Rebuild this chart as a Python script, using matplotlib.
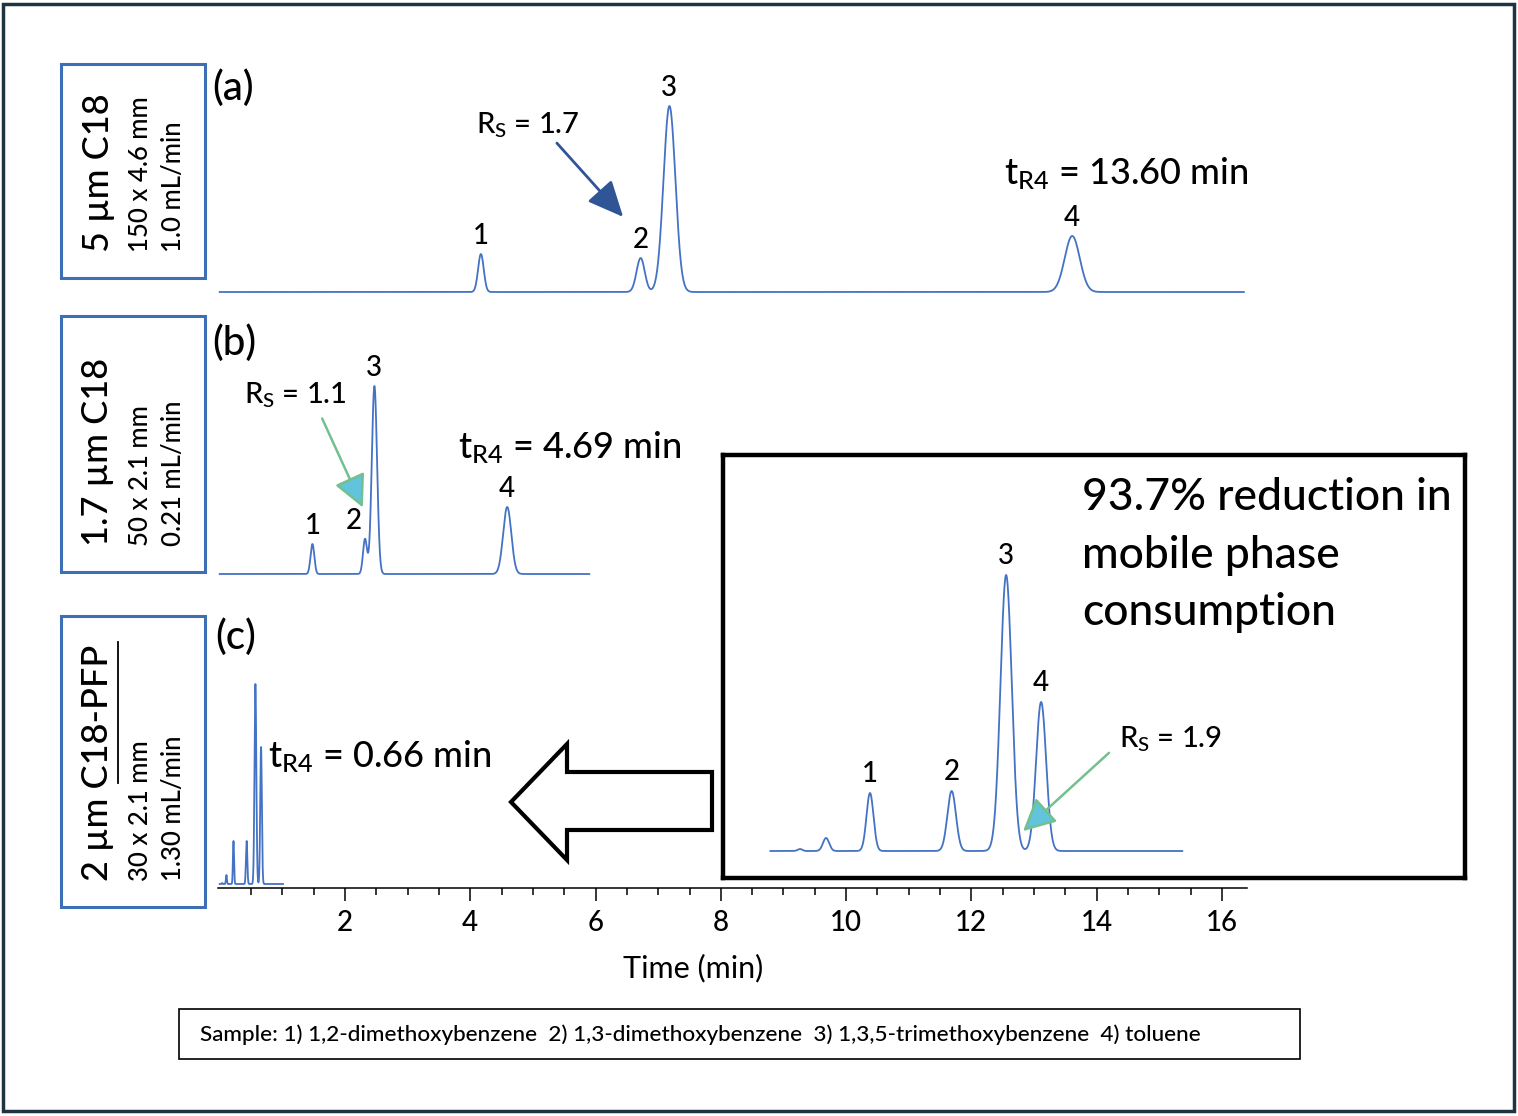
import numpy as np
import matplotlib
matplotlib.use('Agg')
import matplotlib.pyplot as plt
from matplotlib.patches import Rectangle, Polygon, FancyArrowPatch
from matplotlib.lines import Line2D
from matplotlib.ticker import FixedLocator, NullFormatter


######################################## DATA ########################################
# (a) 5 um C18, 150 x 4.6 mm, 1.0 mL/min
a_times = [4.17, 6.72, 7.18, 13.61]       # min
a_heights = [38, 34, 186, 56]             # detector response (a.u.)
a_sigmas = [0.045, 0.065, 0.095, 0.12]    # min
a_run_end = 16.35

# (b) 1.7 um C18, 50 x 2.1 mm, 0.21 mL/min
b_times = [1.48, 2.32, 2.47, 4.59]
b_heights = [30, 35, 188, 67]
b_sigmas = [0.03, 0.032, 0.042, 0.065]
b_run_end = 5.9

# (c) 2 um C18-PFP, 30 x 2.1 mm, 1.30 mL/min (two small system peaks first)
c_times = [0.04, 0.107, 0.22, 0.43, 0.57, 0.66]
c_heights_full = [1, 9, 43, 43, 200, 137]
c_heights_zoom = [2, 13, 58, 60, 276, 149]
c_sigmas = [0.006, 0.008, 0.009, 0.011, 0.0145, 0.013]
c_run = (0.0, 1.01)
c_zoom_run = (-0.036, 1.023)

peak_labels = ['1', '2', '3', '4']
c_labels = ['', '', '1', '2', '3', '4']

major_ticks = [2, 4, 6, 8, 10, 12, 14, 16]
minor_ticks = np.arange(0.5, 16.01, 0.5)

sample_text = ('Sample: 1) 1,2-dimethoxybenzene  2) 1,3-dimethoxybenzene  '
               '3) 1,3,5-trimethoxybenzene  4) toluene')
########################################### # ###########################################

plt.rcParams['font.family'] = ['Lato', 'DejaVu Sans']
plt.rcParams['font.weight'] = 'medium'
plt.rcParams['mathtext.fontset'] = 'custom'
plt.rcParams['mathtext.rm'] = 'Lato:medium'
plt.rcParams['mathtext.it'] = 'Lato:italic'
plt.rcParams['mathtext.bf'] = 'Lato:bold'

W, H = 1518, 1116
trace_color = '#4472c4'
box_color = '#3d6fb6'


def fx(x):
    return x / W


def fy(y):
    return 1 - y / H


def trace(t, times, heights, sigmas):
    # sum of gaussian peaks built from the read retention times / heights / widths
    y = np.zeros_like(t)
    for tr, h, s in zip(times, heights, sigmas):
        y += h * np.exp(-0.5 * ((t - tr) / s) ** 2)
    return y


fig = plt.figure(figsize=(W / 100, H / 100), dpi=100)


def px_axes(x0, y0, x1, y1):
    return fig.add_axes([fx(x0), fy(y1), (x1 - x0) / W, (y1 - y0) / H])


#
# shared time scale for the three chromatograms
#
xmin, xmax = -0.03, 16.4
t0_px, px_per_min = 219.7, 62.64
left_px = t0_px + xmin * px_per_min
right_px = t0_px + xmax * px_per_min

ax_a = px_axes(left_px, 80, right_px, 300)
ax_b = px_axes(left_px, 330, right_px, 580)
ax_c = px_axes(left_px, 620, right_px, 888)
ax_a.set_ylim(-8, 212)
ax_b.set_ylim(-6, 244)
ax_c.set_ylim(-4, 264)

for ax in (ax_a, ax_b, ax_c):
    ax.set_xlim(xmin, xmax)
    ax.patch.set_alpha(0)

ax_a.axis('off')
ax_b.axis('off')

t = np.linspace(0, a_run_end, 8000)
ax_a.plot(t, trace(t, a_times, a_heights, a_sigmas), color=trace_color, lw=1.3)
t = np.linspace(0, b_run_end, 6000)
ax_b.plot(t, trace(t, b_times, b_heights, b_sigmas), color=trace_color, lw=1.3)
t = np.linspace(*c_run, 20000)
ax_c.plot(t, trace(t, c_times, c_heights_full, c_sigmas), color=trace_color, lw=1.3)

# peak numbers
for tr, h, lab in zip(a_times, a_heights, peak_labels):
    ax_a.annotate(lab, (tr, h), xytext=(0, 7), textcoords='offset points',
                  ha='center', va='baseline', fontsize=20)
b_dx = [0, -8, 0, 0]
for tr, h, lab, dx in zip(b_times, b_heights, peak_labels, b_dx):
    ax_b.annotate(lab, (tr, h), xytext=(dx, 7), textcoords='offset points',
                  ha='center', va='baseline', fontsize=20)

# time axis
for side in ('top', 'left', 'right'):
    ax_c.spines[side].set_visible(False)
ax_c.spines['bottom'].set_linewidth(1.1)
ax_c.set_yticks([])
ax_c.xaxis.set_major_locator(FixedLocator(major_ticks))
ax_c.xaxis.set_minor_locator(FixedLocator([m for m in minor_ticks if m not in major_ticks]))
ax_c.xaxis.set_minor_formatter(NullFormatter())
ax_c.tick_params(axis='x', which='major', direction='out', length=9.5, width=1.1,
                 labelsize=20, pad=6)
ax_c.tick_params(axis='x', which='minor', direction='out', length=5, width=1.1)
ax_c.set_xlabel('Time (min)', fontsize=22)
ax_c.xaxis.set_label_coords((693 - left_px) / (right_px - left_px), -0.245)

#
# zoomed view of (c)
#
ax_in = px_axes(723, 455, 1465, 878)
ax_in.set_xlim(-0.158, 1.750)
ax_in.set_ylim(-27, 396)
ax_in.set_xticks([])
ax_in.set_yticks([])
for sp in ax_in.spines.values():
    sp.set_linewidth(3.2)
    sp.set_color('black')
t = np.linspace(*c_zoom_run, 8000)
ax_in.plot(t, trace(t, c_times, c_heights_zoom, c_sigmas), color=trace_color, lw=1.3)
for tr, h, lab in zip(c_times, c_heights_zoom, c_labels):
    if lab:
        ax_in.annotate(lab, (tr, h), xytext=(0, 8), textcoords='offset points',
                       ha='center', va='baseline', fontsize=20)

#
# texts
#
fig.text(fx(212), fy(88), '(a)', fontsize=29, va='center')
fig.text(fx(212), fy(343), '(b)', fontsize=29, va='center')
fig.text(fx(215), fy(637), '(c)', fontsize=29, va='center')

fig.text(fx(1004), fy(184), r'$\mathregular{t_{R4}}$ = 13.60 min', fontsize=26, va='baseline')
fig.text(fx(458), fy(458), r'$\mathregular{t_{R4}}$ = 4.69 min', fontsize=26, va='baseline')
fig.text(fx(268), fy(767), r'$\mathregular{t_{R4}}$ = 0.66 min', fontsize=26, va='baseline')

fig.text(fx(476), fy(134), r'$\mathregular{R_S}$ = 1.7', fontsize=21, va='baseline')
fig.text(fx(244), fy(404), r'$\mathregular{R_S}$ = 1.1', fontsize=21, va='baseline')
fig.text(fx(1119), fy(748), r'$\mathregular{R_S}$ = 1.9', fontsize=21, va='baseline')

fig.text(fx(1082), fy(510), '93.7% reduction in', fontsize=32, va='baseline')
fig.text(fx(1082), fy(568), 'mobile phase', fontsize=32, va='baseline')
fig.text(fx(1082), fy(625), 'consumption', fontsize=32, va='baseline')

# column boxes
boxes = [(61, 64, 205, 278), (61, 316, 205, 572), (61, 616, 205, 907)]
for x0, y0, x1, y1 in boxes:
    fig.add_artist(Rectangle((fx(x0), fy(y1)), (x1 - x0) / W, (y1 - y0) / H,
                             fill=False, ec=box_color, lw=2.2, transform=fig.transFigure))

columns = [
    ('5 µm C18', '150 x 4.6 mm', '1.0 mL/min', 252),
    ('1.7 µm C18', '50 x 2.1 mm', '0.21 mL/min', 546),
    ('2 µm C18-PFP', '30 x 2.1 mm', '1.30 mL/min', 881),
]
for big, dims, flow, ybot in columns:
    fig.text(fx(98), fy(ybot), big, fontsize=26, rotation=90, ha='center', va='bottom')
    fig.text(fx(141), fy(ybot), dims, fontsize=18.5, rotation=90, ha='center', va='bottom')
    fig.text(fx(174), fy(ybot), flow, fontsize=18.5, rotation=90, ha='center', va='bottom')
# underline under C18-PFP
fig.add_artist(Line2D([fx(118), fx(118)], [fy(642), fy(783)], color='black', lw=1.3))

# arrows pointing at the critical pair
fig.add_artist(FancyArrowPatch((fx(555), fy(141)), (fx(625), fy(219)),
                               arrowstyle='-|>,head_length=1.1,head_width=0.5',
                               mutation_scale=20, color='#2f5597', lw=2,
                               transform=fig.transFigure))
fig.add_artist(FancyArrowPatch((fx(321), fy(416)), (fx(364), fy(510)),
                               arrowstyle='-|>,head_length=1.0,head_width=0.5',
                               mutation_scale=20, ec='#72c08e', fc='#62c3dc', lw=1.8,
                               transform=fig.transFigure))
fig.add_artist(FancyArrowPatch((fx(1111), fy(751)), (fx(1021), fy(833)),
                               arrowstyle='-|>,head_length=1.0,head_width=0.5',
                               mutation_scale=20, ec='#72c08e', fc='#62c3dc', lw=1.8,
                               transform=fig.transFigure))

# big hollow arrow from the zoom box back to (c)
arrow_pts = [(511, 802), (567, 744), (567, 772), (712, 772),
             (712, 830), (567, 830), (567, 860)]
fig.add_artist(Polygon([(fx(x), fy(y)) for x, y in arrow_pts], closed=True,
                       fc='white', ec='black', lw=3, joinstyle='miter',
                       transform=fig.transFigure))

# sample legend
fig.add_artist(Rectangle((fx(179), fy(1059)), (1300 - 179) / W, (1059 - 1009) / H,
                         fill=False, ec='black', lw=1.2, transform=fig.transFigure))
fig.text(fx(200), fy(1035), sample_text, fontsize=16.2, va='center')

# outer frame
fig.add_artist(Rectangle((fx(3), fy(1111)), (1514 - 3) / W, (1111 - 4) / H,
                         fill=False, ec='#1f3340', lw=2.5, transform=fig.transFigure))

fig.savefig('out.png', dpi=100)
